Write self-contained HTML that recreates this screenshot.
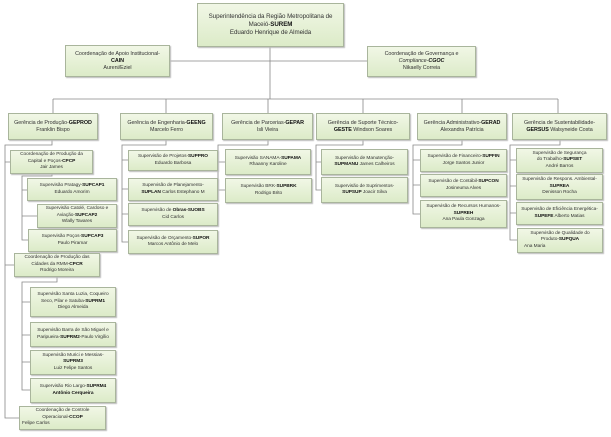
<!DOCTYPE html>
<html><head><meta charset="utf-8"><style>
body{margin:0;width:611px;height:437px;background:#fff;position:relative;overflow:hidden;font-family:"Liberation Sans",sans-serif;}
svg{position:absolute;left:0;top:0}
.b{position:absolute;box-sizing:border-box;border:1px solid #a9b59c;background:linear-gradient(#f1f7e6,#dcebc8);box-shadow:1px 1px 1px #bbb;font-size:4.8px;line-height:6.4px;letter-spacing:-0.05px;color:#333;text-align:center;display:flex;align-items:center;justify-content:center;padding:0}
.b>div{width:100%}
.b b{color:#111}
.big{font-size:6.2px;line-height:8px}
.m{font-size:5.4px;line-height:7px}
</style></head><body>
<svg width="611" height="437" stroke="#888" stroke-width="0.8" fill="none">
<path d="M270 47V99M170 61H367M53 99H558M53 99V113M166 99V113M268 99V113M363 99V113M462 99V113M558 99V113"/>
<path d="M52 140V145H5V418H19M5 162H10M5 265H14"/>
<path d="M52 174V176H22V240H28M22 190H27M22 216H37"/>
<path d="M57 277V282H22V390H30M22 302H30M22 335H30M22 362H30"/>
<path d="M166 140V145H122V242H128M122 160H128M122 189H128M122 214H128"/>
<path d="M268 140V145H218V190H225M218 162H225"/>
<path d="M363 140V145H316V190H321M316 162H321"/>
<path d="M462 140V145H413V214H420M413 160H420M413 185H420"/>
<path d="M560 140V145H510V240H517M510 160H516M510 186H516M510 213H516"/>
</svg>
<div class="b big" style="left:197px;top:3px;width:147px;height:44px"><div>Superintendência da Região Metropolitana de<br>Maceió-<b>SUREM</b><br>Eduardo Henrique de Almeida</div></div>
<div class="b m" style="left:65px;top:45px;width:105px;height:32px"><div>Coordenação de Apoio Institucional-<br><b>CAIN</b><br>Aureni/Eziel</div></div>
<div class="b m" style="left:367px;top:46px;width:109px;height:31px"><div>Coordenação de Governança e<br><i>Compliance</i>-<b><i>CGOC</i></b><br>Nikaelly Correia</div></div>
<div class="b m" style="left:8px;top:113px;width:90px;height:27px"><div>Gerência de Produção-<b>GEPROD</b><br>Franklin Bispo</div></div>
<div class="b m" style="left:120px;top:113px;width:93px;height:27px"><div>Gerência de Engenharia-<b>GEENG</b><br>Marcelo Ferro</div></div>
<div class="b m" style="left:222px;top:113px;width:91px;height:27px"><div>Gerência de Parcerias-<b>GEPAR</b><br>Isli Vieira</div></div>
<div class="b m" style="left:316px;top:113px;width:94px;height:27px"><div>Gerência de Suporte Técnico-<br><b>GESTE</b> Windson Soares</div></div>
<div class="b m" style="left:417px;top:113px;width:90px;height:27px"><div>Gerência Administrativo-<b>GERAD</b><br>Alexandra Patrícia</div></div>
<div class="b m" style="left:512px;top:113px;width:95px;height:27px"><div>Gerência de Sustentabilidade-<br><b>GERSUS</b> Walsyneide Costa</div></div>

<div class="b" style="left:10px;top:150px;width:83px;height:24px"><div>Coordenação de Produção da<br>Capital e Poços-<b>CPCP</b><br>Jair James</div></div>
<div class="b" style="left:27px;top:178px;width:90px;height:23px"><div>Supervisão Pratagy-<b>SUPCAP1</b><br>Eduardo Amorim</div></div>
<div class="b" style="left:37px;top:204px;width:80px;height:24px"><div>Supervisão Catolé, Cardoso e<br>Aviação-<b>SUPCAP2</b><br>Wlally Tavares</div></div>
<div class="b" style="left:28px;top:229px;width:89px;height:23px"><div>Supervisão Poços-<b>SUPCAP3</b><br>Paulo Piramar</div></div>
<div class="b" style="left:14px;top:253px;width:86px;height:24px"><div>Coordenação de Produção das<br>Cidades da RMM-<b>CPCR</b><br>Rodrigo Moreira</div></div>
<div class="b" style="left:30px;top:287px;width:86px;height:30px"><div>Supervisão Santa Luzia, Coqueiro<br>Seco, Pilar e Satuba-<b>SUPRM1</b><br>Diego Almeida</div></div>
<div class="b" style="left:30px;top:322px;width:86px;height:25px"><div>Supervisão Barra de São Miguel e<br>Paripueira-<b>SUPRM2</b>-Paulo Virgílio</div></div>
<div class="b" style="left:30px;top:350px;width:86px;height:25px"><div>Supervisão Murici e Messias-<br><b>SUPRM3</b><br>Luiz Felipe Santos</div></div>
<div class="b" style="left:30px;top:378px;width:86px;height:25px"><div>Supervisão Rio Largo-<b>SUPRM4</b><br><b>Antônio Cerqueira</b></div></div>
<div class="b" style="left:19px;top:406px;width:87px;height:24px"><div>Coordenação de Controle<br>Operacional-<b>CCOP</b><br><span style="display:block;text-align:left;padding-left:2px">Felipe Carlos</span></div></div>

<div class="b" style="left:128px;top:150px;width:90px;height:21px"><div>Supervisão de Projetos-<b>SUPPRO</b><br>Eduardo Barbosa</div></div>
<div class="b" style="left:128px;top:178px;width:90px;height:23px"><div>Supervisão de Planejamento-<br><b>SUPLAN</b> Carlos Estephano M</div></div>
<div class="b" style="left:128px;top:203px;width:90px;height:23px"><div>Supervisão de <b>Obras-SUOBS</b><br>Cid Carlos</div></div>
<div class="b" style="left:128px;top:230px;width:90px;height:24px"><div>Supervisão de Orçamento-<b>SUPOR</b><br>Marcos Antônio de Melo</div></div>

<div class="b" style="left:225px;top:149px;width:86px;height:26px"><div>Supervisão SANAMA-<b>SUPAMA</b><br>Rhaanny Karoline</div></div>
<div class="b" style="left:225px;top:178px;width:87px;height:25px"><div>Supervisão BRK-<b>SUPBRK</b><br>Rodrigo Brito</div></div>
<div class="b" style="left:321px;top:149px;width:87px;height:26px"><div>Supervisão de Manutenção-<br><b>SUPMANU</b> James Calheiros</div></div>
<div class="b" style="left:321px;top:177px;width:87px;height:26px"><div>Supervisão de Suprimentos-<br><b>SUPSUP</b> Joacir Silva</div></div>

<div class="b" style="left:420px;top:149px;width:87px;height:23px"><div>Supervisão de Financeiro-<b>SUPFIN</b><br>Jorge Santos Junior</div></div>
<div class="b" style="left:420px;top:174px;width:87px;height:23px"><div>Supervisão de Contábil-<b>SUPCON</b><br>Josineuma Alves</div></div>
<div class="b" style="left:420px;top:200px;width:87px;height:28px"><div>Supervisão de Recursos Humanos-<br><b>SUPREH</b><br>Ana Paula Gonzaga</div></div>

<div class="b" style="left:516px;top:148px;width:87px;height:25px"><div>Supervisão de Segurança<br>do Trabalho-<b>SUPSET</b><br>André Barros</div></div>
<div class="b" style="left:516px;top:174px;width:87px;height:26px"><div>Supervisão de Respons. Ambiental-<br><b>SUPREA</b><br>Denisson Rocha</div></div>
<div class="b" style="left:516px;top:202px;width:87px;height:23px"><div>Supervisão de Eficiência Energética-<br><b>SUPEFE</b> Alberto Matias</div></div>
<div class="b" style="left:517px;top:228px;width:86px;height:25px"><div>Supervisão de Qualidade do<br>Produto-<b>SUPQUA</b><br><span style="display:block;text-align:left;padding-left:6px">Ana Maria</span></div></div>
</body></html>
